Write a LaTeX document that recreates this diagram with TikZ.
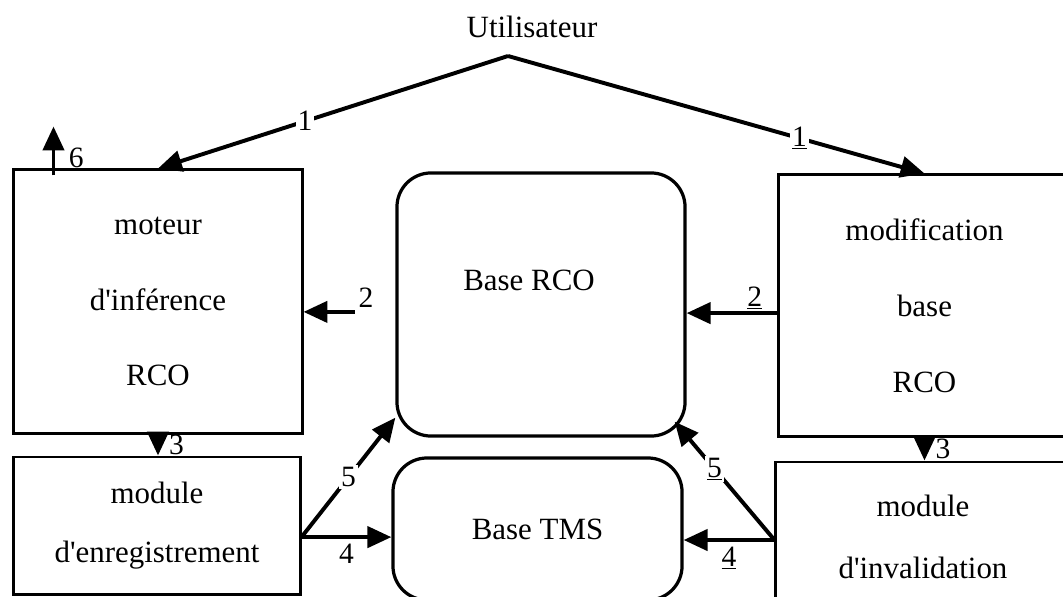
\documentclass[tikz,border=0pt]{standalone}
\usepackage{fontspec}
\setmainfont{Liberation Serif}[Ligatures=TeXOff]
\usetikzlibrary{arrows.meta}

\begin{document}
\begin{tikzpicture}[x=0.025cm,y=-0.025cm,font=\fontsize{22}{54}\selectfont]
	\tikzset{bx/.style={draw,line width=2.1pt,rectangle,align=center},
		bse/.style={draw,line width=2.3pt,rounded corners=0.85cm,minimum width=7.2cm},
		fl/.style={line width=2.8pt,-{Triangle[length=17pt,width=15pt]}},
		nb/.style={font=\fontsize{21}{21}\selectfont,inner sep=1.5pt}}
	\path[use as bounding box,clip](0,0)rectangle(1063,597);
	\node(util) at (532,27){Utilisateur};
	\coordinate(apex) at (508,56);
	\node[bx,minimum width=7.2cm,minimum height=6.575cm](moteur) at (158,301.5){moteur\\d'inférence\\RCO};
	\node[bx,minimum width=7.15cm,minimum height=3.425cm,font=\fontsize{22}{42.5}\selectfont](enreg) at (157,525.5){module\\d'enregistrement};
	\node[bx,minimum width=7.275cm,minimum height=6.525cm](modif) at (924.5,305.5){modification\\base\\RCO};
	\node[bx,minimum width=7.35cm,minimum height=3.75cm,font=\fontsize{22}{44}\selectfont](inval) at (923,537){module\\d'invalidation};
	\node[bse,minimum height=6.575cm](rco) at (541,304.5){};
	\node(rcotxt) at ([xshift=-0.3cm,yshift=0.61cm]rco.center){Base RCO};
	\node[bse,minimum width=7.225cm,minimum height=3.55cm](tms) at (537.5,529){Base TMS};
	% 1 : utilisateur
	\draw[fl](apex)--(moteur.north)node[pos=0.58,fill=white,nb]{1};
	\draw[fl](apex)--(modif.north)node[pos=0.7,fill=white,nb]{\underline{1}};
	% 6
	\coordinate(s6) at ([xshift=1.025cm,yshift=-0.175cm]moteur.north west);
	\coordinate(t6) at ([xshift=1.025cm,yshift=1.05cm]moteur.north west);
	\draw[fl](s6)--(t6)node[pos=0.35,right=8pt,nb]{6};
	% 2
	\coordinate(s2) at ([xshift=1.275cm,yshift=-0.26cm]moteur.east);
	\draw[fl](s2)--(s2-|moteur.east)node[at start,above right,nb]{2};
	\coordinate(s2r) at ([yshift=-0.19cm]modif.west);
	\draw[fl](s2r)--(s2r-|rco.east)node[pos=0.25,above,nb]{\underline{2}};
	% 3
	\draw[fl](moteur.south)--(moteur.south|-enreg.north)node[midway,right=5pt,nb]{3};
	\draw[fl](modif.south)--(modif.south|-inval.north)node[midway,right=5pt,nb]{3};
	% 5 et 4
	\coordinate(s5) at ([yshift=-0.29cm]enreg.east);
	\draw[fl](s5)--([yshift=0.5cm]rco.south west)node[midway,fill=white,nb]{5};
	\draw[fl](s5)--(s5-|tms.west)node[midway,below=2pt,nb]{4};
	\coordinate(s5r) at ([yshift=-0.075cm]inval.west);
	\draw[fl](s5r)--([xshift=-0.3cm,yshift=0.4cm]rco.south east)node[pos=0.6,fill=white,nb]{\underline{5}};
	\draw[fl](s5r)--(s5r-|tms.east)node[midway,below=2pt,nb]{\underline{4}};
\end{tikzpicture}
\end{document}
